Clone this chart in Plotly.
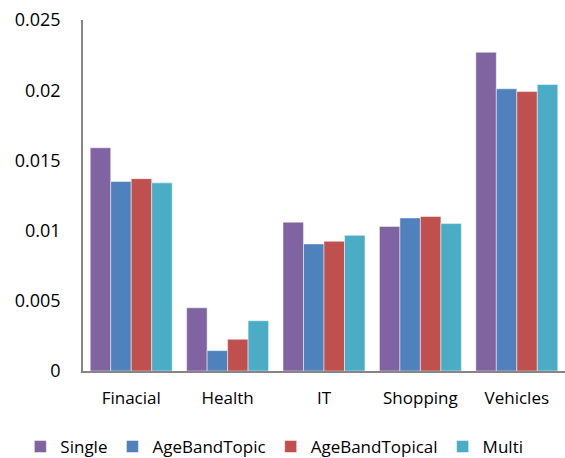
import plotly.graph_objects as go

categories = ["Finacial", "Health", "IT", "Shopping", "Vehicles"]
single = [0.0159, 0.0045, 0.0106, 0.0103, 0.0227]
age_band_topic = [0.0135, 0.00145, 0.00905, 0.0109, 0.0201]
age_band_topical = [0.0137, 0.00226, 0.00924, 0.0110, 0.0199]
multi = [0.0134, 0.00358, 0.00966, 0.0105, 0.0204]
y_ticks = [0, 0.005, 0.01, 0.015, 0.02, 0.025]
y_tick_labels = ["0", "0.005", "0.01", "0.015", "0.02", "0.025"]

series = [
    ("Single", single, "#8064A2"),
    ("AgeBandTopic", age_band_topic, "#4F81BD"),
    ("AgeBandTopical", age_band_topical, "#C0504D"),
    ("Multi", multi, "#4BACC6"),
]

fig = go.Figure()
for name, vals, color in series:
    fig.add_trace(go.Bar(
        x=categories, y=vals, name=name,
        marker=dict(color=color, line=dict(color="rgba(255,255,255,0.6)", width=0.8)),
    ))

font = "Open Sans, Calibri, sans-serif"
fig.update_layout(
    width=565, height=458,
    margin=dict(l=83, r=0, t=20, b=87, autoexpand=False),
    paper_bgcolor="white", plot_bgcolor="white",
    barmode="group", bargap=0.15, bargroupgap=0,
    font=dict(family=font, size=17, color="#000000"),
    showlegend=True,
    # legend sits below and left of the plot area so it can span
    # the full figure width in a single row
    legend=dict(
        orientation="h", xref="paper", yref="paper",
        x=-0.13, xanchor="left", y=-0.2165, yanchor="middle",
        font=dict(size=17), itemwidth=30, tracegroupgap=0,
    ),
    xaxis=dict(
        showline=True, linecolor="#868686", linewidth=1.5,
        showgrid=False, ticks="", ticklabelstandoff=11,
        tickfont=dict(size=17),
    ),
    yaxis=dict(
        range=[0, 0.025], tickvals=y_ticks, ticktext=y_tick_labels,
        showline=True, linecolor="#868686", linewidth=1.5,
        showgrid=False, zeroline=False, ticks="", ticklabelstandoff=17,
        tickfont=dict(size=18),
    ),
)

fig.write_html("out.html")
